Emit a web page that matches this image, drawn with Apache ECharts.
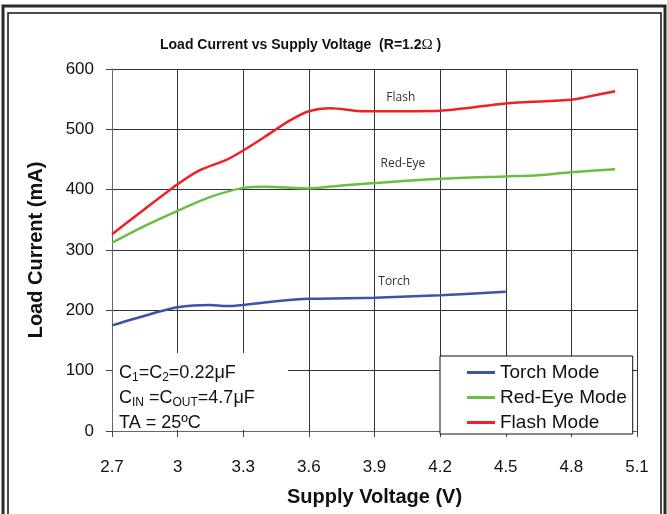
<!DOCTYPE html>
<html>
<head>
<meta charset="utf-8">
<script src="https://cdn.jsdelivr.net/npm/echarts@6/dist/echarts.min.js"></script>
<style>
  html, body { margin: 0; padding: 0; background: #fff; }
  #chart { width: 667px; height: 514px; }
</style>
</head>
<body>
<div id="chart"></div>
<script>
// supply voltage (V) / load current (mA)
const torchV = [2.7, 2.85, 3.0, 3.15, 3.22, 3.3, 3.45, 3.6, 3.9, 4.2, 4.5];
const torchI = [175, 191, 205, 209, 207, 209, 215, 219, 221, 225, 231];

const redEyeV = [2.7, 2.85, 3.0, 3.15, 3.3, 3.4, 3.6, 3.75, 3.9, 4.2, 4.5, 4.65, 4.8, 5.0];
const redEyeI = [312, 340, 365, 388, 403, 405, 402, 407, 411, 418, 422, 424, 429, 434];

const flashV = [2.7, 2.85, 3.0, 3.1, 3.22, 3.3, 3.4, 3.51, 3.6, 3.7, 3.85, 3.9, 4.2, 4.5, 4.8, 4.86, 5.0];
const flashI = [326, 368, 409, 432, 449, 465, 488, 514, 530, 535, 530, 530, 531, 543, 549, 553, 563];

const seriesNames = ["Torch Mode", "Red-Eye Mode", "Flash Mode"];
const curveLabels = ["Torch", "Red-Eye", "Flash"];
// where the small in-plot labels sit, in data units
const curveLabelAt = [[3.99, 247], [4.03, 444], [4.02, 553]];

const xMin = 2.7, xMax = 5.1, xStep = 0.3;
const yMin = 0, yMax = 600, yStep = 100;

const font = "'Liberation Sans', Arial, sans-serif";
const colors = ["#3b54a5", "#6cbd45", "#ee2127"];

function pairs(xs, ys) {
  return xs.map((x, i) => [x, ys[i]]);
}

const myChart = echarts.init(document.getElementById("chart"));

function lineSeries(idx, xs, ys) {
  return {
    type: "line",
    name: seriesNames[idx],
    data: pairs(xs, ys),
    smooth: 0.25,
    symbol: "none",
    lineStyle: { color: colors[idx], width: 2.5 },
    itemStyle: { color: colors[idx] },
    markPoint: {
      symbol: "circle",
      symbolSize: 0,
      silent: true,
      label: {
        show: true,
        position: "inside",
        formatter: curveLabels[idx],
        color: "#333",
        fontSize: 12,
        fontFamily: "'Open Sans', sans-serif"
      },
      data: [{ coord: curveLabelAt[idx] }]
    }
  };
}

myChart.setOption({
  backgroundColor: "#fff",
  animation: false,
  title: {
    text: "Load Current vs Supply Voltage  (R=1.2{o|Ω} )",
    left: 155,
    top: 33,
    textStyle: {
      fontFamily: font,
      fontSize: 14,
      fontWeight: "bold",
      color: "#111",
      rich: {
        o: { fontFamily: "'Liberation Serif', serif", fontSize: 15, fontWeight: "normal", color: "#111" }
      }
    }
  },
  grid: {
    left: 112,
    right: 30,
    top: 69,
    bottom: 83
  },
  xAxis: {
    type: "value",
    min: xMin,
    max: xMax,
    interval: xStep,
    name: "Supply Voltage (V)",
    nameLocation: "middle",
    nameGap: 56,
    nameTextStyle: { fontFamily: font, fontSize: 20, fontWeight: "bold", color: "#111" },
    axisLine: { lineStyle: { color: "#666", width: 1 } },
    axisTick: { show: true, length: 6, lineStyle: { color: "#444" } },
    axisLabel: {
      margin: 28,
      fontFamily: font,
      fontSize: 17,
      color: "#111",
      formatter: v => String(Math.round(v * 10) / 10)
    },
    splitLine: { show: true, lineStyle: { color: "#333", width: 1 } }
  },
  yAxis: {
    type: "value",
    min: yMin,
    max: yMax,
    interval: yStep,
    name: "Load Current (mA)",
    nameLocation: "middle",
    nameGap: 66,
    nameTextStyle: { fontFamily: font, fontSize: 20, fontWeight: "bold", color: "#111" },
    axisLine: { show: true, lineStyle: { color: "#666", width: 1 } },
    axisTick: { show: true, length: 6, lineStyle: { color: "#444" } },
    axisLabel: { margin: 18, padding: [6, 0, 0, 0], fontFamily: font, fontSize: 17, color: "#111" },
    splitLine: { show: true, lineStyle: { color: "#333", width: 1 } }
  },
  legend: {
    data: seriesNames,
    orient: "vertical",
    left: 440,
    top: 356,
    icon: "rect",
    itemWidth: 28,
    itemHeight: 3,
    itemGap: 4,
    padding: [6, 6, 1, 27],
    backgroundColor: "#fff",
    borderColor: "#111",
    borderWidth: 1,
    borderRadius: 0,
    z: 10,
    textStyle: { fontFamily: font, fontSize: 19, color: "#111", lineHeight: 21 }
  },
  graphic: [
    // double frame round the figure
    {
      type: "rect",
      shape: { x: 3, y: 6, width: 662, height: 530 },
      style: { fill: null, stroke: "#2a2a2a", lineWidth: 3 },
      silent: true
    },
    {
      type: "rect",
      shape: { x: 8, y: 13, width: 653, height: 520 },
      style: { fill: null, stroke: "#111", lineWidth: 1.5 },
      silent: true
    },
    // conditions note, lower left
    {
      type: "rect",
      shape: { x: 113, y: 353, width: 175, height: 77 },
      style: { fill: "#fff" },
      z: 10,
      silent: true
    },
    {
      type: "text",
      left: 119,
      top: 361,
      z: 11,
      silent: true,
      style: {
        text: "C{s|1}=C{s|2}=0.22μF\nC{s|IN} =C{s|OUT}=4.7μF\nTA = 25ºC",
        fontFamily: font,
        fontSize: 18,
        lineHeight: 25,
        fill: "#111",
        rich: {
          s: { fontFamily: font, fontSize: 12, lineHeight: 25, padding: [8, 0, 0, 0], fill: "#111" }
        }
      }
    }
  ],
  series: [
    lineSeries(0, torchV, torchI),
    lineSeries(1, redEyeV, redEyeI),
    lineSeries(2, flashV, flashI)
  ]
});
</script>
</body>
</html>
